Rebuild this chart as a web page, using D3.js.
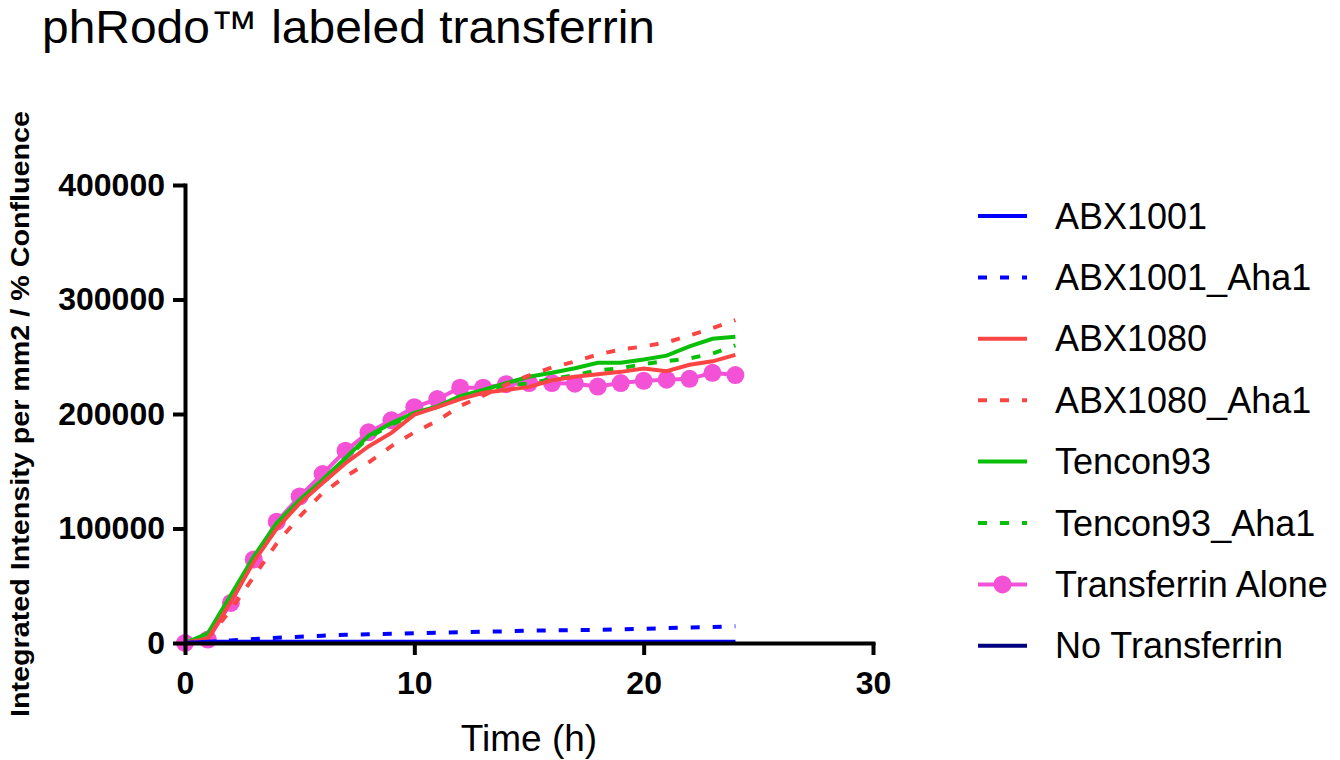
<!DOCTYPE html>
<html>
<head>
<meta charset="utf-8">
<script src="https://cdn.jsdelivr.net/npm/d3@7"></script>
<style>
  body { margin: 0; background: #fff; }
  svg { font-family: "Liberation Sans", Arial, Helvetica, sans-serif; }
</style>
</head>
<body>
<div id="container"></div>
<script>
// time points (h)
var hours = [0,1,2,3,4,5,6,7,8,9,10,11,12,13,14,15,16,17,18,19,20,21,22,23,24];

// series values
var abx1001      = [0,1000,1000,1000,1000,1000,1000,1000,1000,1000,1000,1000,1000,1000,1000,1000,1000,1000,1000,1000,1000,1000,1000,1000,1000];
var abx1001Aha1  = [0,900,2200,3500,4500,5500,6400,7100,7700,8000,8500,8900,9400,9900,10200,10800,11100,11200,11500,11800,12400,13000,13500,13900,14700];
var abx1080      = [0,4000,36000,71000,100000,122000,139700,157000,171700,183500,199500,206000,213000,218500,221000,223700,229500,232500,234700,236800,239700,237400,243000,246000,251700];
var abx1080Aha1  = [0,4000,29000,58000,87000,110500,131000,145500,157500,172000,184000,194000,207000,216000,225700,233600,240600,245800,252000,256300,259000,262500,268600,275000,282000];
var tencon93     = [0,8500,42000,75500,104700,125000,142600,161600,181000,192000,201000,206700,215500,221000,227000,232500,236000,240000,244700,244700,247600,251000,259000,265700,267500];
var tencon93Aha1 = [0,8000,41000,74500,103500,124000,141500,160500,179500,190500,200000,206000,214500,220000,225500,226600,230500,234000,238000,240000,243600,246300,248500,252800,260000];
var tfAlone      = [0,3000,35000,73000,106000,128000,147600,168000,184000,194500,206000,213000,223000,223000,226000,227000,227000,226500,224000,227000,229000,230000,230700,236000,234000];
var noTf         = [0,0,0,0,0,0,0,0,0,0,0,0,0,0,0,0,0,0,0,0,0,0,0,0,0];

var seriesNames  = ["ABX1001","ABX1001_Aha1","ABX1080","ABX1080_Aha1","Tencon93","Tencon93_Aha1","Transferrin Alone","No Transferrin"];
var seriesValues = [abx1001, abx1001Aha1, abx1080, abx1080Aha1, tencon93, tencon93Aha1, tfAlone, noTf];
var seriesColors = ["#0000ff","#0000ff","#fa4545","#fa4545","#0abf0a","#0abf0a","#f452d6","#000080"];
var seriesDashed = [false,true,false,true,false,true,false,false];
var seriesMarker = [false,false,false,false,false,false,true,false];

var yTicks = [0,100000,200000,300000,400000];
var xTicks = [0,10,20,30];

var svgWidth = 1340, svgHeight = 760;
var margin = { top: 185, right: 467, bottom: 117, left: 185 },
    width = svgWidth - margin.left - margin.right,   // 688
    height = svgHeight - margin.top - margin.bottom; // 458

var root = d3.select("div#container")
    .append("svg")
    .attr("width", svgWidth)
    .attr("height", svgHeight);

// title
root.append("text")
    .attr("x", 42)
    .attr("y", 43)
    .attr("textLength", 613)
    .attr("lengthAdjust", "spacingAndGlyphs")
    .style("font-size", "46px")
    .text("phRodo\u2122 labeled transferrin");

var svg = root.append("g")
    .attr("transform", "translate(" + margin.left + "," + margin.top + ")");

var x = d3.scaleLinear().domain([0, 30]).range([0, width]);
var y = d3.scaleLinear().domain([0, 400000]).range([height, 0]);

// series, last one at the bottom
var line = d3.line()
    .x(function (d) { return x(d.t); })
    .y(function (d) { return y(d.v); });

for (var i = seriesNames.length - 1; i >= 0; i--) {
    var pts = hours.map(function (t, j) { return { t: t, v: seriesValues[i][j] }; });
    svg.append("path")
        .datum(pts)
        .attr("d", line)
        .attr("fill", "none")
        .attr("stroke", seriesColors[i])
        .attr("stroke-width", 4)
        .attr("stroke-dasharray", seriesDashed[i] ? "9,13" : null);
    if (seriesMarker[i]) {
        svg.selectAll(".dot" + i)
            .data(pts)
            .enter()
            .append("circle")
            .attr("cx", function (d) { return x(d.t); })
            .attr("cy", function (d) { return y(d.v); })
            .attr("r", 9)
            .attr("fill", seriesColors[i]);
    }
}

// axes
var yAxis = svg.append("g")
    .call(d3.axisLeft(y).tickValues(yTicks).tickSize(12).tickSizeOuter(0).tickPadding(8).tickFormat(d3.format("d")));
var xAxis = svg.append("g")
    .attr("transform", "translate(0," + height + ")")
    .call(d3.axisBottom(x).tickValues(xTicks).tickSize(12).tickSizeOuter(0).tickPadding(16));

[yAxis, xAxis].forEach(function (a) {
    a.select(".domain").attr("stroke", "#000").attr("stroke-width", 4).attr("stroke-linecap", "square");
    a.selectAll(".tick line").attr("stroke", "#000").attr("stroke-width", 4);
    a.selectAll(".tick text")
        .attr("fill", "#000")
        .style("font-size", "32px")
        .style("font-weight", "bold")
        .style("font-family", "'Liberation Sans', Arial, sans-serif");
});

// axis titles
root.append("text")
    .attr("transform", "translate(29,414) rotate(-90)")
    .attr("text-anchor", "middle")
    .attr("textLength", 606)
    .attr("lengthAdjust", "spacingAndGlyphs")
    .style("font-size", "25px")
    .style("font-weight", "bold")
    .text("Integrated Intensity per mm2 / % Confluence");

root.append("text")
    .attr("x", 529)
    .attr("y", 751)
    .attr("text-anchor", "middle")
    .style("font-size", "37px")
    .text("Time (h)");

// legend
var legend = root.append("g").attr("transform", "translate(978,216)");
var rowGap = 61.4;
seriesNames.forEach(function (name, i) {
    var row = legend.append("g").attr("transform", "translate(0," + (i * rowGap) + ")");
    row.append("line")
        .attr("x1", 0).attr("x2", 49)
        .attr("y1", 0).attr("y2", 0)
        .attr("stroke", seriesColors[i])
        .attr("stroke-width", 4)
        .attr("stroke-dasharray", seriesDashed[i] ? "9,13" : null);
    if (seriesMarker[i]) {
        row.append("circle").attr("cx", 24.5).attr("cy", 0).attr("r", 9).attr("fill", seriesColors[i]);
    }
    row.append("text")
        .attr("x", 77)
        .attr("y", 0)
        .attr("dy", "0.35em")
        .style("font-size", "36px")
        .text(name);
});
</script>
</body>
</html>
